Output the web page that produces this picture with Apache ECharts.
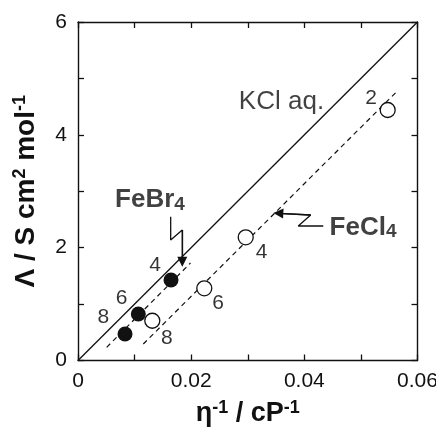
<!DOCTYPE html>
<html>
<head>
<meta charset="utf-8">
<script src="https://cdn.jsdelivr.net/npm/echarts@6/dist/echarts.min.js"></script>
<style>
  html, body { margin: 0; padding: 0; background: #fff; }
  #main { width: 436px; height: 428px; }
</style>
</head>
<body>
<div id="main"></div>
<script>
// measured points [eta^-1, Lambda]
var febrPoints = [[0.00831, 0.470], [0.01066, 0.824], [0.01644, 1.427]];
var feclPoints = [[0.01313, 0.705], [0.02232, 1.280], [0.02964, 2.184], [0.05473, 4.440]];

// reference line and fits
var kclLine = [[0, 0], [0.06, 6]];
var febrFit = [[0.00507, 0.234], [0.01988, 1.728]];
var feclFit = [[0.01154, 0.292], [0.05632, 4.765]];

// annotation arrows (zigzag), data coords
var febrArrow = [[0.01638, 2.549], [0.01638, 2.136], [0.01843, 2.313], [0.01843, 1.751]];
var feclArrow = [[0.04335, 2.384], [0.03893, 2.384], [0.04112, 2.579], [0.03540, 2.609]];

// number labels next to points [x, y, text]
var febrNums = [[0.01361, 1.693, '4'], [0.00772, 1.102, '6'], [0.00447, 0.776, '8']];
var feclNums = [[0.05178, 4.653, '2'], [0.03243, 1.923, '4'], [0.02474, 1.014, '6'], [0.01568, 0.393, '8']];

// text labels [x, y, text]
var textLabels = [
  [0.03596, 4.591, '{k|KCl aq.}'],
  [0.01272, 2.845, '{b|FeBr}{s|4}'],
  [0.05037, 2.357, '{b|FeCl}{s|4}']
];

var xTicks = ['0', '0.02', '0.04', '0.06'];
var yTicks = ['0', '2', '4', '6'];

var FONT = 'Liberation Sans';
var INK = '#111';

var chart = echarts.init(document.getElementById('main'), null, { renderer: 'canvas' });

function xFmt(v) {
  var k = Math.round(v * 100);
  return k % 2 === 0 ? xTicks[k / 2] : '';
}
function yFmt(v) {
  var k = Math.round(v);
  return k % 2 === 0 ? yTicks[k / 2] : '';
}

var axisLine = { show: true, onZero: false, lineStyle: { color: INK, width: 1.4 } };
var axisTick = { show: true, inside: true, length: 6, lineStyle: { color: INK, width: 1.3 } };

var labelRich = {
  k: { fontFamily: FONT, fontSize: 26, color: INK, lineHeight: 28 },
  b: { fontFamily: FONT, fontSize: 26, fontWeight: 'bold', color: INK, lineHeight: 28 },
  s: { fontFamily: FONT, fontSize: 19, fontWeight: 'bold', color: INK, lineHeight: 17, verticalAlign: 'bottom' }
};

var option = {
  animation: false,
  backgroundColor: '#fff',
  grid: { left: 78, top: 22, width: 339.5, height: 338.5, containLabel: false, outerBoundsMode: 'none' },
  xAxis: [{
    type: 'value', min: 0, max: 0.06, interval: 0.01, position: 'bottom',
    axisLine: axisLine, axisTick: axisTick, splitLine: { show: false },
    axisLabel: { formatter: xFmt, fontFamily: FONT, fontSize: 21, color: INK, margin: 10 },
    name: '{t|η}{s|-1}{t| / cP}{s|-1}',
    nameLocation: 'middle', nameGap: 39,
    nameTextStyle: {
      rich: {
        t: { fontFamily: FONT, fontSize: 27, fontWeight: 'bold', color: INK, lineHeight: 28 },
        s: { fontFamily: FONT, fontSize: 18, fontWeight: 'bold', color: INK, lineHeight: 17, verticalAlign: 'top' }
      }
    }
  }, {
    type: 'value', min: 0, max: 0.06, interval: 0.01, position: 'top',
    axisLine: axisLine, axisTick: axisTick, splitLine: { show: false },
    axisLabel: { show: false }
  }],
  yAxis: [{
    type: 'value', min: 0, max: 6, interval: 1, position: 'left',
    axisLine: axisLine, axisTick: axisTick, splitLine: { show: false },
    axisLabel: { formatter: yFmt, fontFamily: FONT, fontSize: 21, color: INK, margin: 11 },
    name: '{t|Λ / S cm}{s|2}{t| mol}{s|-1}',
    nameLocation: 'middle', nameGap: 37, nameRotate: 90,
    nameTextStyle: {
      rich: {
        t: { fontFamily: FONT, fontSize: 28, fontWeight: 'bold', color: INK, lineHeight: 30 },
        s: { fontFamily: FONT, fontSize: 18, fontWeight: 'bold', color: INK, lineHeight: 17, verticalAlign: 'top' }
      }
    }
  }, {
    type: 'value', min: 0, max: 6, interval: 1, position: 'right',
    axisLine: axisLine, axisTick: axisTick, splitLine: { show: false },
    axisLabel: { show: false }
  }],
  series: [
    {
      name: 'KCl aq.', type: 'line', data: kclLine, symbol: 'none',
      lineStyle: { color: INK, width: 1.3 }, z: 2
    },
    {
      name: 'FeBr4 fit', type: 'line', data: febrFit, symbol: 'none',
      lineStyle: { color: INK, width: 1.2, type: [5, 4] }, z: 2
    },
    {
      name: 'FeCl4 fit', type: 'line', data: feclFit, symbol: 'none',
      lineStyle: { color: INK, width: 1.2, type: [5, 4] }, z: 2
    },
    {
      name: 'FeBr4 arrow', type: 'line', data: febrArrow, symbol: 'none',
      lineStyle: { color: INK, width: 1.3 }, z: 3
    },
    {
      name: 'FeCl4 arrow', type: 'line', data: feclArrow, symbol: 'none',
      lineStyle: { color: INK, width: 1.3 }, z: 3
    },
    {
      name: 'arrowheads', type: 'lines', coordinateSystem: 'cartesian2d',
      symbol: ['none', 'triangle'], symbolSize: [0, 10],
      lineStyle: { color: INK, width: 1.3, opacity: 1 },
      data: [
        { coords: febrArrow.slice(-2) },
        { coords: feclArrow.slice(-2) }
      ],
      z: 3
    },
    {
      name: 'FeBr4', type: 'scatter', data: febrPoints, symbol: 'circle', symbolSize: 15,
      itemStyle: { color: INK, opacity: 1 }, z: 5
    },
    {
      name: 'FeCl4', type: 'scatter', data: feclPoints, symbol: 'circle', symbolSize: 15,
      itemStyle: { color: '#fff', borderColor: INK, borderWidth: 1.3, opacity: 1 }, z: 5
    },
    {
      name: 'numbers', type: 'scatter', symbolSize: 0,
      data: febrNums.concat(feclNums),
      label: {
        show: true, position: 'inside', formatter: function (p) { return p.value[2]; },
        fontFamily: FONT, fontSize: 21, color: '#000'
      },
      z: 6
    },
    {
      name: 'texts', type: 'scatter', symbolSize: 0,
      data: textLabels,
      label: {
        show: true, position: 'inside', formatter: function (p) { return p.value[2]; },
        rich: labelRich
      },
      z: 6
    }
  ]
};

chart.setOption(option);
</script>
</body>
</html>
